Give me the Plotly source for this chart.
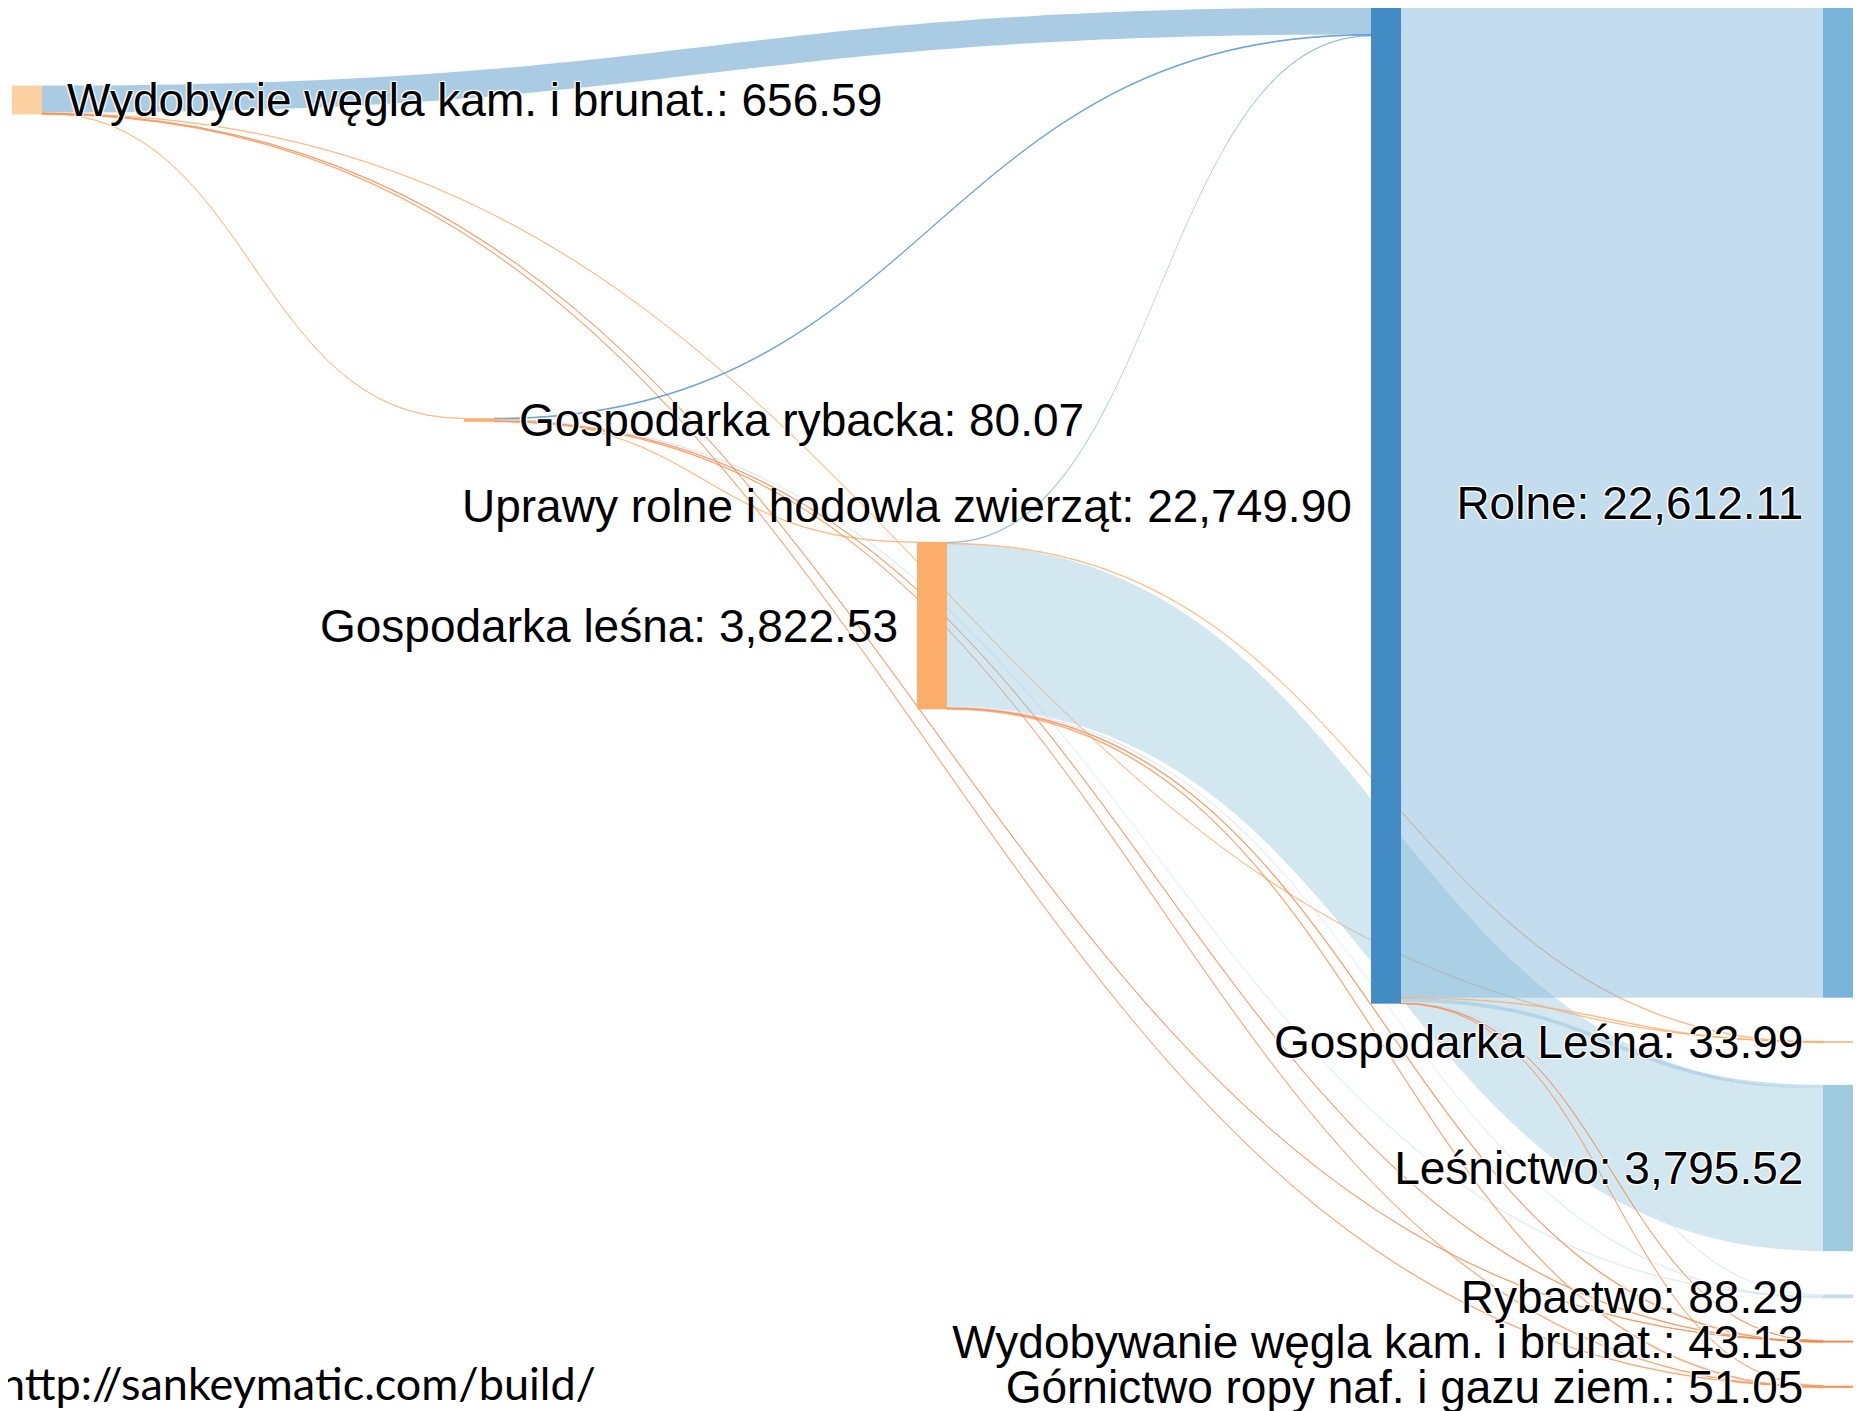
import plotly.graph_objects as go

# ---------------- data ----------------
node_names = [
    "Wydobycie węgla kam. i brunat.",
    "Gospodarka rybacka",
    "Gospodarka leśna",
    "Uprawy rolne i hodowla zwierząt",
    "Rolne",
    "Gospodarka Leśna",
    "Leśnictwo",
    "Rybactwo",
    "Wydobywanie węgla kam. i brunat.",
    "Górnictwo ropy naf. i gazu ziem.",
]

link_source = [0, 0, 0, 0, 0,
               1, 1, 1, 1, 1,
               2, 2, 2, 2, 2, 2,
               3, 3, 3, 3, 3, 3]
link_target = [3, 1, 5, 8, 9,
               3, 2, 7, 8, 9,
               3, 6, 5, 7, 8, 9,
               4, 6, 5, 7, 8, 9]
link_value = [618.59, 8.00, 8.00, 10.00, 12.00,
              18.00, 10.00, 30.00, 10.00, 12.07,
              30.41, 3710.12, 14.00, 30.00, 18.00, 20.00,
              22612.11, 85.40, 11.99, 28.29, 5.13, 6.98]

# ---------------- styles / positions ----------------
node_colors = ["#fdd0a2", "#fdae6b", "#fdae6b", "#438bc4",
               "#7bb4da", "#fdae6b", "#9ecae1", "#c6dbef", "#f4874a", "#f8955a"]
# label side: "R" = right of node (native), "L" = left of node
label_side = ["R", "R", "L", "L", "L", "L", "L", "L", "L", "L"]
# nodes whose left-side label is drawn as an annotation (plotly puts it right otherwise)
annot_nodes = [2, 3]
annot_right_px = {2: 892, 3: 1346}
annot_dy_px = -8

W, H = 1865, 1411
SHIFT = 8  # plotly sankey internal offset
node_cx_px = [27, 479, 932, 1386, 1838, 1838, 1838, 1838, 1838, 1838]
node_cy_px = [100, 420, 625.6, 505.5, 502.5, 1042, 1168, 1296.4, 1341.6, 1386.8]

# node values = max(in, out)
n = len(node_names)
vin = [0.0] * n
vout = [0.0] * n
for s, t, v in zip(link_source, link_target, link_value):
    vout[s] += v
    vin[t] += v
node_vals = [max(a, b) for a, b in zip(vin, vout)]

full_labels = [f"{nm}: {val:,.2f}" for nm, val in zip(node_names, node_vals)]
labels = []
for i, txt in enumerate(full_labels):
    if i in annot_nodes:
        labels.append("")
    elif label_side[i] == "R":
        labels.append("\u00a0\u2009" + txt)
    else:
        labels.append(txt + "\u00a0\u200a")


def rgba(hexc, a):
    h = hexc.lstrip("#")
    r, g, b = int(h[0:2], 16), int(h[2:4], 16), int(h[4:6], 16)
    return f"rgba({r},{g},{b},{a})"


link_colors = [rgba(node_colors[t], 0.45 if v > 200 else 0.6)
               for t, v in zip(link_target, link_value)]

FONT = "Liberation Sans, Arial, sans-serif"

fig = go.Figure(go.Sankey(
    arrangement="fixed",
    domain=dict(x=[0, 1], y=[0, 1]),
    node=dict(
        label=labels,
        color=node_colors,
        x=[(c - SHIFT) / W for c in node_cx_px],
        y=[(c - SHIFT) / H for c in node_cy_px],
        thickness=30,
        pad=49,
        line=dict(width=0, color="rgba(0,0,0,0)"),
    ),
    link=dict(
        source=link_source,
        target=link_target,
        value=link_value,
        color=link_colors,
        line=dict(width=0, color="rgba(0,0,0,0)"),
    ),
    textfont=dict(family=FONT, size=46, color="#000000"),
))

for i in annot_nodes:
    fig.add_annotation(
        text=full_labels[i],
        xref="paper", yref="paper",
        x=annot_right_px[i] / W, y=1 - (node_cy_px[i] + annot_dy_px) / H,
        xanchor="right", yanchor="middle",
        showarrow=False,
        font=dict(family=FONT, size=46, color="#000000"),
    )

fig.add_annotation(
    text="http://sankeymatic.com/build/",
    xref="paper", yref="paper",
    x=-0.0055, y=1 - 1375 / H,
    xanchor="left", yanchor="middle",
    showarrow=False,
    font=dict(family="Lato, Open Sans, sans-serif", size=45, color="#000000"),
)

fig.update_layout(
    width=W, height=H,
    margin=dict(l=0, r=0, t=0, b=0),
    paper_bgcolor="white",
    plot_bgcolor="white",
)

fig.write_html("out.html")
